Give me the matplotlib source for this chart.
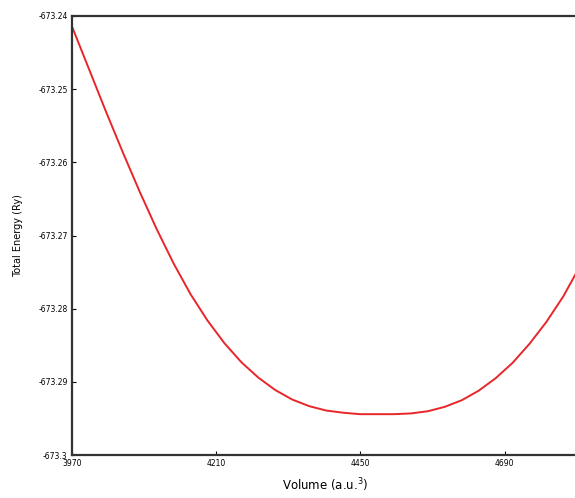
import matplotlib
matplotlib.use("Agg")
import matplotlib.pyplot as plt

# E-V curve
volume = [3970.0, 3998.2, 4026.4, 4054.6, 4082.8, 4111.0, 4139.2, 4167.4, 4195.6,
          4223.8, 4252.0, 4280.2, 4308.4, 4336.6, 4364.8, 4393.0, 4421.2, 4449.4,
          4477.6, 4505.8, 4534.0, 4562.2, 4590.4, 4618.6, 4646.8, 4675.0, 4703.2,
          4731.4, 4759.6, 4787.8, 4812.0]
energy = [-673.2414, -673.2472, -673.2530, -673.2586, -673.2640, -673.2691, -673.2738,
          -673.2780, -673.2816, -673.2847, -673.2873, -673.2894, -673.2911, -673.2924,
          -673.2933, -673.2939, -673.2942, -673.2944, -673.2944, -673.2944, -673.2943,
          -673.2940, -673.2934, -673.2925, -673.2912, -673.2895, -673.2874, -673.2848,
          -673.2818, -673.2783, -673.2747]

x_ticks = [3970, 4210, 4450, 4690]
y_ticks = [-673.24, -673.25, -673.26, -673.27, -673.28, -673.29, -673.30]
y_tick_labels = ["-673.24", "-673.25", "-673.26", "-673.27", "-673.28", "-673.29", "-673.3"]

fig = plt.figure(figsize=(5.75, 4.98), dpi=100)
ax = fig.add_axes([0.125, 0.086, 0.88, 0.882])

ax.plot(volume, energy, "-", color="#e8262a", lw=1.4, solid_joinstyle="round")

ax.set_xlim(3970, 4812)
ax.set_ylim(-673.30, -673.24)
ax.set_xticks(x_ticks, [str(v) for v in x_ticks])
ax.set_yticks(y_ticks, y_tick_labels)
ax.tick_params(direction="in", length=3, width=0.8, labelsize=5.5, pad=3)
for s in ax.spines.values():
    s.set_linewidth(1.6)
    s.set_color("#333333")

ax.set_xlabel("Volume (a.u.$^3$)", fontsize=8.5, labelpad=6)
ax.set_ylabel("Total Energy (Ry)", fontsize=7, labelpad=11)

fig.savefig("out.png", dpi=100)
